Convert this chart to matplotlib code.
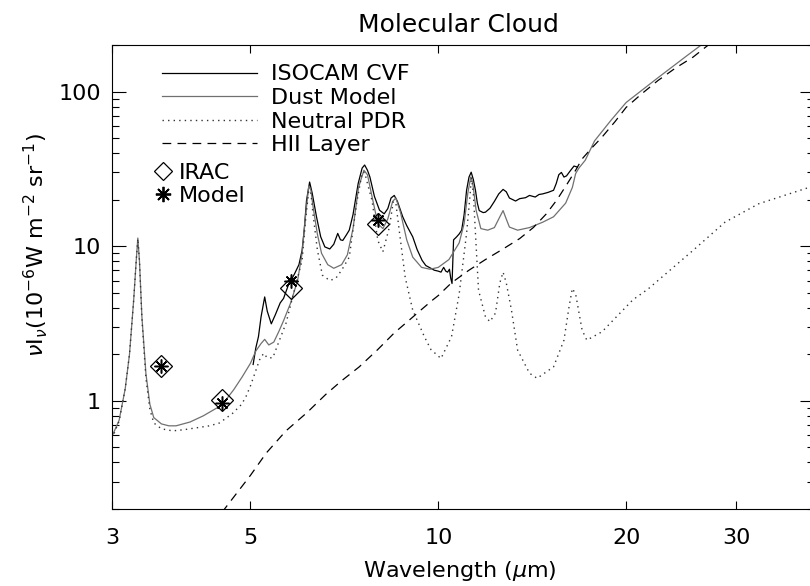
import matplotlib
matplotlib.use("Agg")
import matplotlib.pyplot as plt
from matplotlib.lines import Line2D
from matplotlib.ticker import FixedLocator, NullFormatter, NullLocator, LogLocator

plt.rcParams["font.family"] = ["DejaVu Sans"]
plt.rcParams["mathtext.fontset"] = "dejavusans"

# ISOCAM CVF spectrum
cvf_wl = [5.05, 5.1, 5.15, 5.2, 5.27, 5.32, 5.4, 5.48, 5.58, 5.65, 5.75, 5.88,
          5.98, 6.05, 6.1, 6.15, 6.22, 6.28, 6.38, 6.48, 6.58, 6.7, 6.8, 6.9,
          6.97, 7.03, 7.12, 7.2, 7.3, 7.44, 7.55, 7.62, 7.7, 7.77, 7.9, 8.05,
          8.19, 8.3, 8.4, 8.5, 8.6, 8.77, 8.9, 9.0, 9.1, 9.25, 9.42, 9.55,
          9.73, 9.85, 10.0, 10.1, 10.2, 10.28, 10.35, 10.42, 10.47, 10.52,
          10.58, 10.7, 10.8, 10.9, 11.0, 11.1, 11.2, 11.29, 11.38, 11.47,
          11.55, 11.63, 11.8, 11.9, 12.1, 12.3, 12.5, 12.7, 12.85, 13.0, 13.3,
          13.5, 13.8, 14.0, 14.3, 14.5, 14.7, 15.0, 15.3, 15.45, 15.6, 15.75,
          15.9, 16.05, 16.3, 16.5, 16.7]
cvf_flux = [1.72, 2.2, 2.6, 3.5, 4.7, 3.8, 3.15, 3.6, 4.3, 4.6, 5.6, 6.6,
            7.6, 9.4, 13.0, 19.8, 26.0, 22.0, 15.5, 11.5, 9.9, 9.6, 10.3, 12.1,
            11.0, 10.9, 11.8, 12.7, 16.0, 25.4, 32.0, 33.5, 31.0, 28.0, 21.0, 17.1,
            16.2, 17.5, 20.5, 21.3, 19.5, 15.5, 13.6, 12.5, 11.5, 9.5, 8.1, 7.5,
            7.2, 7.0, 6.9, 6.8, 7.3, 6.9, 6.8, 7.1, 6.2, 5.74,
            11.0, 11.5, 12.0, 12.7, 16.0, 23.0, 28.0, 30.1, 27.0, 23.0,
            19.0, 17.0, 16.5, 16.6, 17.6, 19.5, 21.8, 23.3, 22.5, 20.5, 19.6,
            20.3, 20.6, 21.3, 20.8, 21.6, 21.8, 22.3, 23.0, 25.4, 29.0, 30.0,
            28.0, 28.5, 31.0, 33.0, 32.5]

# dust model (total)
dust_wl = [3.0, 3.08, 3.15, 3.2, 3.25, 3.28, 3.3, 3.32, 3.35, 3.4, 3.45, 3.5,
           3.6, 3.7, 3.8, 4.0, 4.2, 4.5, 4.7, 4.85, 5.0, 5.1, 5.2, 5.27, 5.35,
           5.45, 5.55, 5.65, 5.8, 5.95, 6.05, 6.12, 6.2, 6.25, 6.3, 6.4, 6.5,
           6.65, 6.8, 7.0, 7.15, 7.3, 7.45, 7.6, 7.7, 7.85, 8.0, 8.15, 8.3,
           8.45, 8.55, 8.7, 8.9, 9.1, 9.4, 9.7, 10.0, 10.4, 10.8, 11.0, 11.15,
           11.27, 11.35, 11.5, 11.7, 12.0, 12.3, 12.55, 12.7, 12.85, 13.0, 13.4,
           14.0, 14.7, 15.3, 16.0, 16.4, 16.6, 16.8, 17.2, 17.8, 18.9, 20.0,
           22.5, 25.0, 26.6]
dust_flux = [0.59, 0.75, 1.2, 2.0, 4.5, 8.0, 11.3, 8.0, 3.5, 1.5, 0.95, 0.78,
             0.71, 0.69, 0.69, 0.73, 0.8, 0.94, 1.18, 1.43, 1.75, 2.1, 2.35, 2.5, 2.3,
             2.4, 2.8, 3.3, 4.3, 6.0, 9.0, 15.0, 24.5, 23.0, 18.0, 12.0, 9.0,
             7.6, 7.2, 7.6, 8.8, 13.0, 24.0, 31.0, 29.0, 20.0, 14.0, 13.0, 15.0,
             19.5, 20.5, 16.5, 11.0, 8.5, 7.3, 7.1, 7.3, 8.2, 10.5, 14.0, 22.0,
             28.0, 26.0, 17.0, 13.0, 12.7, 13.2, 15.5, 17.0, 15.0, 13.3, 12.7,
             13.2, 14.3, 15.5, 19.0, 24.0, 29.5, 32.0, 36.0, 48.0, 65.0, 85.0,
             123.0, 170.0, 205.0]

# neutral PDR component
pdr_wl = [3.0, 3.08, 3.15, 3.2, 3.25, 3.28, 3.3, 3.32, 3.35, 3.4, 3.45, 3.5,
          3.6, 3.75, 3.9, 4.1, 4.3, 4.46, 4.68, 4.84, 4.92, 5.0, 5.08, 5.17,
          5.25, 5.32, 5.43, 5.55, 5.7, 5.88, 6.05, 6.12, 6.2, 6.25, 6.3, 6.4,
          6.52, 6.7, 6.85, 7.0, 7.2, 7.4, 7.55, 7.62, 7.75, 7.83, 8.0, 8.15,
          8.35, 8.47, 8.55, 8.65, 8.85, 9.1, 9.5, 9.73, 10.1, 10.5, 10.8, 11.1,
          11.25, 11.3, 11.38, 11.47, 11.6, 11.9, 12.1, 12.35, 12.55, 12.7,
          12.85, 13.1, 13.4, 14.0, 14.4, 15.3, 15.9, 16.2, 16.4, 16.6, 17.0,
          17.3, 18.3, 19.3, 20.5, 21.7, 25.6, 28.8, 32.6, 39.4, 40.0]
pdr_flux = [0.57, 0.74, 1.2, 2.0, 4.5, 8.0, 11.2, 8.0, 3.4, 1.4, 0.88, 0.72,
            0.66, 0.64, 0.65, 0.67, 0.69, 0.72, 0.83, 0.95, 1.07, 1.25, 1.5, 1.84,
            2.03, 1.9, 1.9, 2.4, 3.17, 5.2, 8.1, 14.0, 23.0, 22.0, 16.0, 9.5,
            6.5, 6.0, 6.2, 7.0, 8.5, 19.0, 30.0, 30.0, 23.0, 19.8, 10.9, 9.2,
            13.3, 19.5, 19.0, 13.0, 6.3, 3.86, 2.6, 2.15, 1.88, 2.6, 4.9, 12.1,
            22.0, 28.0, 22.0, 12.1, 5.2, 3.5, 3.25, 3.7, 5.8, 6.8,
            5.8, 3.86, 2.13, 1.51, 1.4, 1.66, 2.47, 4.06, 5.33, 4.9, 2.87,
            2.47, 2.8, 3.5, 4.5, 5.3, 9.4, 14.3, 18.8, 24.1, 24.5]

# HII layer component
hii_wl = [4.5, 5.0, 5.3, 5.7, 6.16, 6.6, 7.0, 7.47, 8.0, 8.5, 9.0, 9.4, 9.8,
          10.0, 10.5, 11.2, 11.9, 12.7, 13.5, 14.2, 14.9, 15.5, 16.1, 16.6,
          17.0, 17.6, 18.3, 19.2, 20.0, 21.2, 22.5, 24.0, 25.6, 27.5]
hii_flux = [0.19, 0.33, 0.46, 0.64, 0.84, 1.1, 1.35, 1.66, 2.15, 2.75, 3.35, 3.9,
            4.5, 4.8, 5.8, 7.0, 8.2, 9.6, 11.2, 13.2, 16.2, 20.0, 25.4, 31.0,
            36.7, 43.0, 50.8, 64.0, 79.0, 97.0, 118.0, 142.0, 167.0, 210.0]

# IRAC band fluxes and model predictions
band_wl = [3.6, 4.5, 5.8, 8.0]
irac_flux = [1.68, 1.01, 5.4, 14.0]
model_flux = [1.67, 0.97, 6.0, 14.8]

fig = plt.figure(figsize=(8.1, 5.86), dpi=100)
ax = fig.add_axes([112 / 810, 77 / 586, 702 / 810, 464 / 586])

gray = "#707070"
ax.plot(cvf_wl, cvf_flux, color="black", lw=0.9)
ax.plot(dust_wl, dust_flux, color=gray, lw=0.9)
ax.plot(pdr_wl, pdr_flux, color="#333333", lw=1.0, ls=(0, (1, 3)))
ax.plot(hii_wl, hii_flux, color="black", lw=0.9, ls=(0, (7, 5)))

ax.plot(band_wl, irac_flux, ls="none", marker="D", ms=11, mfc="none",
        mec="black", mew=0.9)
ax.plot(band_wl, model_flux, ls="none", marker=(8, 2, 0), ms=10,
        mec="black", mew=1.1)

ax.set_xscale("log")
ax.set_yscale("log")
ax.set_xlim(3, 40)
ax.set_ylim(0.2, 200)

ax.xaxis.set_major_locator(FixedLocator([3, 5, 10, 20, 30]))
ax.xaxis.set_minor_locator(NullLocator())
ax.set_xticklabels(["3", "5", "10", "20", "30"])
ax.yaxis.set_major_locator(FixedLocator([1, 10, 100]))
ax.yaxis.set_minor_locator(LogLocator(base=10, subs=range(2, 10)))
ax.yaxis.set_minor_formatter(NullFormatter())
ax.set_yticklabels(["1", "10", "100"])

ax.tick_params(which="both", direction="in", top=True, right=True,
               labelsize=16, width=0.8)
ax.tick_params(axis="x", which="major", length=6, pad=14)
ax.tick_params(axis="y", which="major", length=10, pad=8)
ax.tick_params(axis="y", which="minor", length=5)
for sp in ax.spines.values():
    sp.set_linewidth(0.8)

ax.set_xlabel(r"Wavelength ($\mu$m)", fontsize=16)
ax.xaxis.set_label_coords(0.4957, -0.108)
ax.set_ylabel(r"$\nu$I$_\nu$(10$^{-6}$W m$^{-2}$ sr$^{-1}$)", fontsize=16)
ax.yaxis.set_label_coords(-0.088, 0.569)
ax.set_title("Molecular Cloud", fontsize=18, x=0.494, y=1.028, pad=0)

line_handles = [
    Line2D([], [], color="black", lw=0.9),
    Line2D([], [], color=gray, lw=0.9),
    Line2D([], [], color="#333333", lw=1.0, ls=(0, (1, 3))),
    Line2D([], [], color="black", lw=0.9, ls=(0, (7, 5))),
]
leg1 = ax.legend(line_handles, ["ISOCAM CVF", "Dust Model", "Neutral PDR", "HII Layer"],
                 loc="upper left", bbox_to_anchor=(0.0712, 0.958), frameon=False,
                 fontsize=16, handlelength=4.28, handletextpad=0.63,
                 labelspacing=0.16, borderpad=0, borderaxespad=0)
ax.add_artist(leg1)

mark_handles = [
    Line2D([], [], ls="none", marker="D", ms=9, mfc="none", mec="black", mew=0.9),
    Line2D([], [], ls="none", marker=(8, 2, 0), ms=11, mec="black", mew=1.3),
]
ax.legend(mark_handles, ["IRAC", "Model"], loc="upper left",
          bbox_to_anchor=(0.057, 0.746), frameon=False, fontsize=16,
          handlelength=1.0, handletextpad=0.2, labelspacing=0.13,
          borderpad=0, borderaxespad=0)

fig.savefig("out.png", dpi=100)
